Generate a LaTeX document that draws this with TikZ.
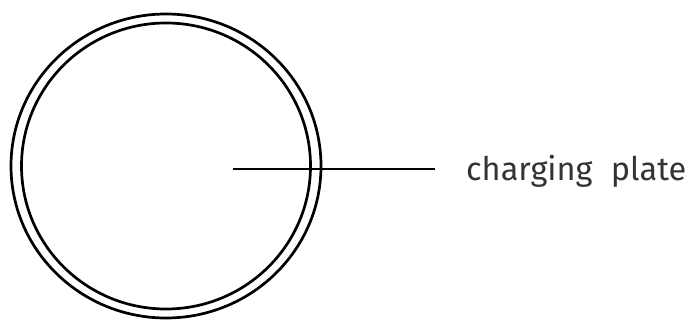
\documentclass[tikz,border=0pt]{standalone}
\usepackage{fontspec}
\setmainfont{Fira Sans}
\definecolor{labelgray}{HTML}{333333}
\begin{document}
\begin{tikzpicture}[x=1pt,y=-1pt,
  ring/.style={draw=black,line width=2.7pt},
  leader/.style={draw=black,line width=2.3pt},
  label/.style={font=\fontsize{32.5}{36}\selectfont,text=labelgray,inner sep=0pt,anchor=base west}]
\useasboundingbox (0,0) rectangle (692,323);
\coordinate (c) at (166,166);
\draw[ring] (c) ellipse [x radius=155, y radius=152];
\draw[ring] (c) ellipse [x radius=144.5, y radius=143];
\coordinate (a) at (233,169);
\coordinate (b) at (435,169);
\node[label] (t) at (466,180) {charging\hspace{0.3em} plate};
\draw[leader] (a) -- (b);
\end{tikzpicture}
\end{document}
